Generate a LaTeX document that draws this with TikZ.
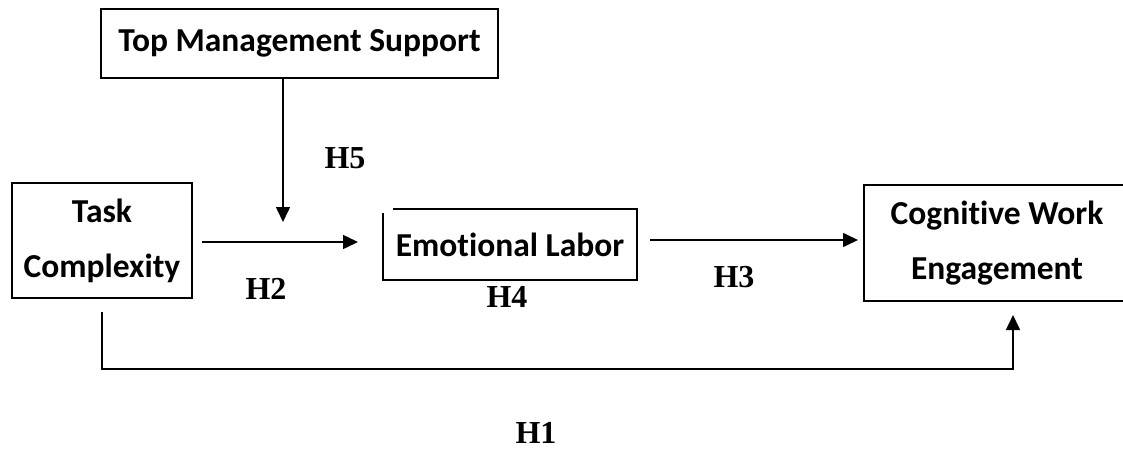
\documentclass[tikz,border=0pt]{standalone}
\usepackage{fontspec}
\newfontfamily\boxfont{Carlito}[Ligatures=NoCommon]
\newfontfamily\hfont{Liberation Serif}
\usetikzlibrary{arrows.meta}
\begin{document}
\begin{tikzpicture}[x=1pt,y=-1pt,
  every node/.style={inner sep=0pt,outer sep=0pt},
  lw/.style={line width=1.6pt},
  boxtext/.style={font=\boxfont\bfseries\fontsize{33.5}{55}\selectfont,align=center},
  hlabel/.style={font=\hfont\bfseries\fontsize{32}{32}\selectfont},
  arr/.style={lw,-{Triangle[length=15pt,width=14pt]}}]
\useasboundingbox (0,0) rectangle (1123,450);
% boxes
\node[draw,lw,minimum width=397pt,minimum height=69pt,boxtext] (tms) at (299.5,43.5) {Top Management Support};
\node[draw,lw,minimum width=180pt,minimum height=115pt,boxtext] (tc) at (102,240.5) {Task\\Complexity};
\node[minimum width=254pt,minimum height=71pt,boxtext] (el) at (510,244.5) {Emotional Labor};
\draw[lw] ([xshift=10pt]el.north west) -- (el.north east) -- (el.south east) -- (el.south west) -- ([yshift=-4pt]el.north west);
\node[boxtext] (cwe) at (997,243) {Cognitive Work\\Engagement};
\draw[lw] (1130,185) -- (864,185) -- (864,301) -- (1130,301);
% coordinates
\coordinate (mod) at (283,222);
\coordinate (h2a) at (202,242);
\coordinate (h2b) at (358,242);
\coordinate (h3a) at (650,240);
\coordinate (h3b) at (858,240);
\coordinate (h1a) at (102,312);
\coordinate (h1b) at (1013,315);
% connectors
\draw[arr] (mod |- tms.south) -- (mod);
\draw[arr] (h2a) -- (h2b);
\draw[arr] (h3a) -- (h3b);
\draw[arr] (h1a) -- (h1a |- 0,369) -| (h1b);
% labels
\node[hlabel] (H5) at (345,158) {H5};
\node[hlabel] (H2) at (266,289) {H2};
\node[hlabel] (H4) at (507,297) {H4};
\node[hlabel] (H3) at (734,277) {H3};
\node[hlabel] (H1) at (536,433) {H1};
\end{tikzpicture}
\end{document}
